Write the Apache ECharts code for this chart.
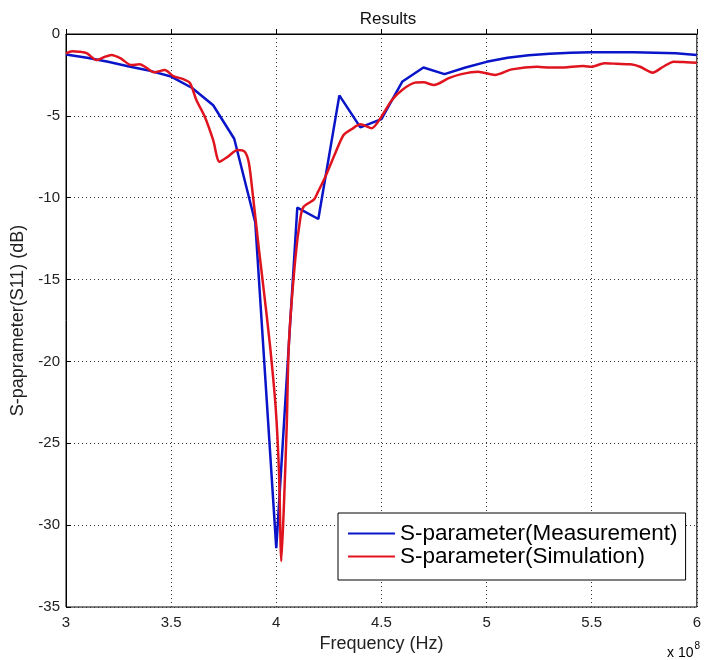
<!DOCTYPE html>
<html>
<head>
<meta charset="utf-8">
<title>Results</title>
<script src="https://cdn.jsdelivr.net/npm/echarts@6/dist/echarts.min.js"></script>
<style>
  html, body { margin: 0; padding: 0; background: #fff; }
  #chart { width: 704px; height: 660px; }
</style>
</head>
<body>
<div id="chart"></div>
<script>
// Frequency in units of 1e8 Hz, return loss S11 in dB
const measFreq = [3.0, 3.1, 3.2, 3.3, 3.4, 3.5, 3.6, 3.7, 3.8, 3.9, 4.0, 4.1, 4.2, 4.3, 4.4, 4.5,
  4.6, 4.7, 4.8, 4.9, 5.0, 5.1, 5.2, 5.3, 5.4, 5.5, 5.6, 5.7, 5.8, 5.9, 6.0];
const measS11 = [-1.25, -1.45, -1.7, -1.98, -2.25, -2.6, -3.3, -4.35, -6.4, -11.5, -31.4, -10.6, -11.3, -3.75, -5.7, -5.2,
  -2.9, -2.05, -2.45, -2.05, -1.7, -1.45, -1.3, -1.2, -1.15, -1.12, -1.12, -1.12, -1.14, -1.18, -1.28];

const simFreq = [3.0, 3.03, 3.06, 3.1, 3.145, 3.18, 3.216, 3.26, 3.31, 3.35, 3.38, 3.42, 3.47, 3.51, 3.56, 3.59,
  3.62, 3.66, 3.7, 3.73, 3.77, 3.815, 3.85, 3.87, 3.89, 3.918, 3.94, 3.97, 3.997, 4.013, 4.024, 4.036,
  4.05, 4.06, 4.09, 4.115, 4.13, 4.18, 4.2, 4.234, 4.28, 4.32, 4.36, 4.4, 4.454, 4.5, 4.55, 4.6,
  4.66, 4.7, 4.75, 4.82, 4.88, 4.96, 5.04, 5.12, 5.24, 5.3, 5.37, 5.46, 5.5, 5.56, 5.62, 5.685,
  5.73, 5.79, 5.84, 5.89, 5.95, 6.0];
const simS11 = [-1.18, -1.05, -1.08, -1.18, -1.59, -1.42, -1.28, -1.49, -1.9, -1.85, -2.04, -2.34, -2.2, -2.57, -2.77, -3.0,
  -4.03, -5.05, -6.48, -7.8, -7.49, -7.09, -7.19, -7.9, -10.0, -13.2, -15.6, -19.0, -22.8, -26.8, -32.2, -28.9,
  -23.8, -18.9, -13.8, -11.2, -10.55, -10.1, -9.6, -8.7, -7.3, -6.17, -5.8, -5.52, -5.76, -5.05, -4.03, -3.4,
  -2.97, -2.95, -3.12, -2.7, -2.45, -2.3, -2.5, -2.16, -2.0, -2.05, -2.04, -1.96, -2.0, -1.79, -1.82, -1.85,
  -2.0, -2.36, -2.0, -1.69, -1.72, -1.75];

const seriesNames = ['S-parameter(Measurement)', 'S-parameter(Simulation)'];
const xTicks = { min: 3, max: 6, step: 0.5 };
const yTicks = { min: -35, max: 0, step: 5 };

const FONT = '"Liberation Sans", Arial, Helvetica, sans-serif';
const BLUE = '#0a14c8';
const RED = '#e0141e';

const zip = (xs, ys) => xs.map((x, i) => [x, ys[i]]);

const chart = echarts.init(document.getElementById('chart'), null, { renderer: 'canvas' });

const gridLine = { show: true, lineStyle: { color: '#333', width: 1, type: [1, 3] } };
const axisLine = { show: true, lineStyle: { color: '#000', width: 1 } };
const axisTick = { show: true, inside: true, length: 5, lineStyle: { color: '#000' } };

chart.setOption({
  backgroundColor: '#fff',
  animation: false,
  title: {
    text: 'Results',
    left: 383,
    top: 6,
    textAlign: 'center',
    textStyle: { fontFamily: FONT, fontSize: 17, fontWeight: 'normal', color: '#111' }
  },
  grid: {
    left: 66, right: 4, top: 34, bottom: 53,
    show: true, borderColor: '#000', borderWidth: 1, backgroundColor: '#fff'
  },
  legend: {
    orient: 'vertical',
    left: 338,
    top: 513,
    data: seriesNames,
    icon: 'rect',
    itemWidth: 47,
    itemHeight: 2,
    itemGap: 0,
    padding: [9, 8, 12, 10],
    backgroundColor: '#fff',
    borderColor: '#000',
    borderWidth: 1,
    borderRadius: 0,
    textStyle: { fontFamily: FONT, fontSize: 22.5, color: '#000', lineHeight: 22 }
  },
  xAxis: {
    type: 'value',
    min: xTicks.min,
    max: xTicks.max,
    interval: xTicks.step,
    name: 'Frequency (Hz)',
    nameLocation: 'middle',
    nameGap: 28,
    nameTextStyle: { fontFamily: FONT, fontSize: 18, color: '#222' },
    axisLine: axisLine,
    axisTick: axisTick,
    splitLine: gridLine,
    axisLabel: { fontFamily: FONT, fontSize: 15, color: '#222', margin: 8 }
  },
  yAxis: {
    type: 'value',
    min: yTicks.min,
    max: yTicks.max,
    interval: yTicks.step,
    name: 'S-paprameter(S11) (dB)',
    nameLocation: 'middle',
    nameGap: 33,
    nameRotate: 90,
    nameTextStyle: { fontFamily: FONT, fontSize: 18, color: '#222' },
    axisLine: axisLine,
    axisTick: axisTick,
    splitLine: gridLine,
    axisLabel: { fontFamily: FONT, fontSize: 15, color: '#222', margin: 6 }
  },
  graphic: [{
    type: 'text',
    left: 667,
    top: 641,
    style: {
      text: '{a|x 10}{s|8}',
      rich: {
        a: { fontFamily: FONT, fontSize: 14, color: '#222', verticalAlign: 'bottom' },
        s: { fontFamily: FONT, fontSize: 10, color: '#222', verticalAlign: 'top', padding: [0, 0, 9, 1] }
      }
    }
  }],
  series: [
    {
      name: seriesNames[0],
      type: 'line',
      data: zip(measFreq, measS11),
      symbol: 'none',
      color: BLUE,
      lineStyle: { color: BLUE, width: 2.5 },
      z: 3
    },
    {
      name: seriesNames[1],
      type: 'line',
      data: zip(simFreq, simS11),
      symbol: 'none',
      smooth: 0.25,
      color: RED,
      lineStyle: { color: RED, width: 2.5 },
      z: 4
    }
  ]
});
</script>
</body>
</html>
